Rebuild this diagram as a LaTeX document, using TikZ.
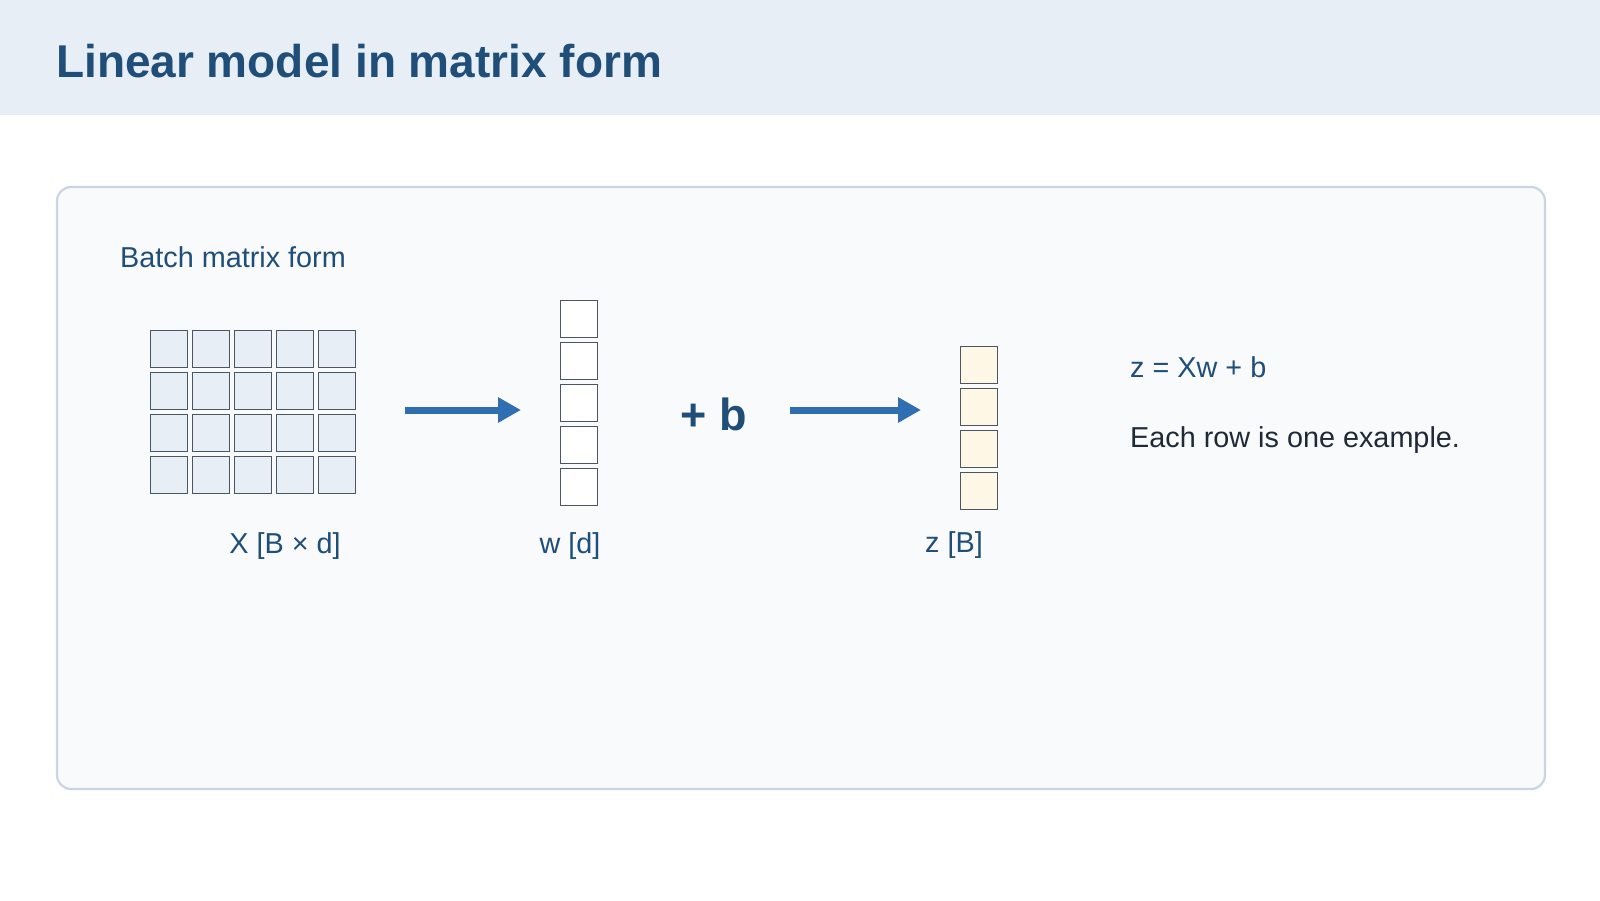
\documentclass[tikz,border=0pt]{standalone}
\usepackage{fontspec}
\setmainfont{Liberation Sans}
\usetikzlibrary{arrows.meta}
\definecolor{headbg}{HTML}{E8EEF6}
\definecolor{titlec}{HTML}{1F4E79}
\definecolor{panelbg}{HTML}{F8FAFC}
\definecolor{panelln}{HTML}{CBD5E1}
\definecolor{cellln}{HTML}{4B5563}
\definecolor{xfill}{HTML}{E8EEF6}
\definecolor{zfill}{HTML}{FFF7E6}
\definecolor{arrc}{HTML}{2F6FB1}
\definecolor{bodyc}{HTML}{1F2937}
\tikzset{
  cellbox/.style={draw=cellln, line width=1.1pt, minimum size=37.5pt, inner sep=0pt, outer sep=0pt},
  xcell/.style={cellbox, fill=xfill},
  wcell/.style={cellbox, fill=white},
  zcell/.style={cellbox, fill=zfill},
  lbl/.style={font=\fontsize{28.8}{34}\selectfont, text=titlec, inner sep=0pt, anchor=base},
  flow/.style={draw=arrc, line width=7pt, -{Triangle[length=23pt,width=24pt]}},
}
\begin{document}
\begin{tikzpicture}[x=1pt,y=-1pt]
\useasboundingbox (0,0) rectangle (1600,900);
\fill[white] (0,0) rectangle (1600,900);
\fill[headbg] (0,0) rectangle (1600,115);
\node[anchor=base west, inner sep=0pt, text=titlec, font=\fontsize{46}{54}\selectfont\bfseries] (title) at (56,77) {Linear model in matrix form};
\draw[panelln, fill=panelbg, line width=2.2pt, rounded corners=14pt] (57,187) rectangle (1545,789);
\node[lbl, anchor=base west] (sub) at (120,267) {Batch matrix form};
% X grid
\foreach \i in {0,...,4}{
  \foreach \j in {0,...,3}{
    \node[xcell] (x-\i-\j) at ({169+42*\i},{349+42*\j}) {};
  }
}
% w column
\foreach \j in {0,...,4}{
  \node[wcell] (w-\j) at (579,{319+42*\j}) {};
}
% z column
\foreach \j in {0,...,3}{
  \node[zcell] (z-\j) at (979,{365+42*\j}) {};
}
\node[lbl] (xl) at (285,553) {X [B × d]};
\node[lbl] (wl) at (570,553) {w [d]};
\node[lbl] (zl) at (954,552) {z [B]};
\node[anchor=base, inner sep=0pt, text=titlec, font=\fontsize{45}{54}\selectfont\bfseries] (pb) at (714,430) {+ b};
\coordinate (a1s) at (405,410);
\coordinate (a1e) at (521,410);
\coordinate (a2s) at (790,410);
\coordinate (a2e) at (921,410);
\draw[flow] (a1s) -- (a1e);
\draw[flow] (a2s) -- (a2e);
\node[lbl, anchor=base west] (eq) at (1130,377) {z = Xw + b};
\node[lbl, anchor=base west, text=bodyc] (note) at (1130,447) {Each row is one example.};
\end{tikzpicture}
\end{document}
